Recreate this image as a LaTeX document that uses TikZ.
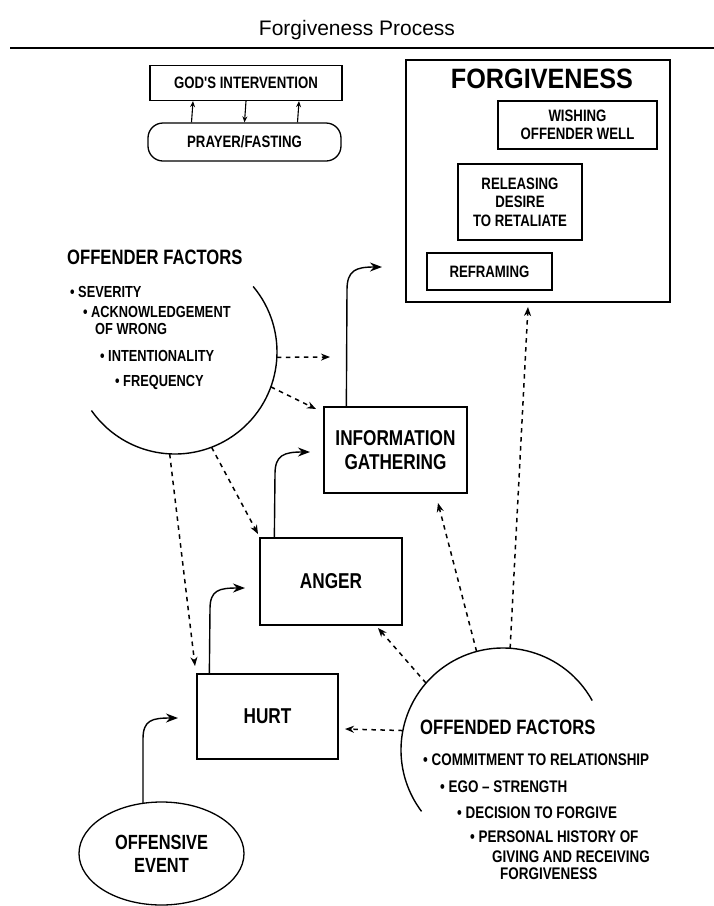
\documentclass[tikz,border=0pt]{standalone}
\usepackage{fontspec}
\setmainfont{Liberation Sans}
\newfontfamily\cond[FakeStretch=0.8]{Liberation Sans}
\newfontfamily\condw[FakeStretch=0.9]{Liberation Sans}
\usetikzlibrary{arrows.meta,shapes.geometric}
\tikzset{
  box/.style={draw, line width=1.3pt, inner sep=0pt, align=center,
    font=\cond\bfseries\fontsize{21.5}{24}\selectfont},
  sbox/.style={draw, line width=1.3pt, inner sep=0pt, align=center,
    font=\cond\bfseries\fontsize{16.5}{18.5}\selectfont},
  lst/.style={anchor=west, inner sep=0pt, font=\cond\bfseries\fontsize{16}{18}\selectfont},
  lstb/.style={anchor=west, inner sep=0pt, font=\cond\bfseries\fontsize{16.8}{18}\selectfont},
  head/.style={anchor=west, inner sep=0pt, font=\cond\bfseries\fontsize{20.8}{24}\selectfont},
  solidarr/.style={line width=1.4pt, -{Stealth[length=12pt,width=9pt]}},
  dasharr/.style={line width=1.5pt, dash pattern=on 4.5pt off 4.5pt, -{Stealth[length=9pt,width=7pt]}},
  smallarr/.style={line width=1.1pt, -{Stealth[length=6pt,width=5pt]}},
  arcline/.style={line width=1.4pt}
}
\begin{document}
\begin{tikzpicture}[x=1pt,y=-1pt]
\useasboundingbox (0,0) rectangle (714,906);
% title and rule
\node[font=\fontsize{21}{24}\selectfont, inner sep=0pt] (title) at (357,30) {Forgiveness Process};
\coordinate (rl) at (10,48);
\coordinate (rr) at (714,48);
\draw[line width=1.8pt] (rl) -- (rr);

% God / prayer
\node[sbox, minimum width=192pt, minimum height=35pt] (god) at (246,83) {GOD'S INTERVENTION};
\node[sbox, minimum width=193pt, minimum height=38pt, rounded corners=15pt] (pray) at (244.5,142) {PRAYER/FASTING};
\draw[smallarr] ([xshift=-53pt]pray.north) -- ([xshift=-53pt]god.south);
\draw[smallarr] (god.south) -- (pray.north);
\draw[smallarr] ([xshift=53pt]pray.north) -- ([xshift=53pt]god.south);

% Forgiveness box
\node[draw, line width=1.3pt, minimum width=264pt, minimum height=242pt, inner sep=0pt] (forg) at (538,181) {};
\node[inner sep=0pt, font=\condw\bfseries\fontsize{28}{30}\selectfont] (forgt) at (542,79) {FORGIVENESS};
\node[sbox, minimum width=159pt, minimum height=48pt] (wish) at (577.5,125) {WISHING\\OFFENDER WELL};
\node[sbox, minimum width=124pt, minimum height=76pt] (rel) at (520,202) {RELEASING\\DESIRE\\TO RETALIATE};
\node[sbox, minimum width=125pt, minimum height=37pt] (refr) at (489.5,271.5) {REFRAMING};

% process boxes
\node[box, minimum width=143pt, minimum height=86pt] (info) at (395.5,450) {INFORMATION\\GATHERING};
\node[box, minimum width=142pt, minimum height=87pt] (anger) at (331,581.5) {ANGER};
\node[box, minimum width=141pt, minimum height=85pt] (hurt) at (267.5,716.5) {HURT};
\node[draw, ellipse, line width=1.3pt, minimum width=165pt, minimum height=103pt, inner sep=0pt, align=center,
  font=\cond\bfseries\fontsize{20.5}{23}\selectfont] (off) at (161.5,853.5) {OFFENSIVE\\EVENT};

% solid curved arrows
\coordinate (t1) at (382,267);
\coordinate (t2) at (310,452);
\coordinate (t3) at (245,588);
\coordinate (t4) at (178,718);
\coordinate (s4) at (143,803.5);
\draw[solidarr] ([xshift=23pt]info.north west) -- (347,290) .. controls (347,270) and (356,267) .. (t1);
\draw[solidarr] ([xshift=15pt]anger.north west) -- (275,474) .. controls (275,455) and (284,452) .. (t2);
\draw[solidarr] ([xshift=13pt]hurt.north west) -- (210,609) .. controls (210,590) and (219,588) .. (t3);
\draw[solidarr] (s4) -- (143,739) .. controls (143,720) and (152,718) .. (t4);

% offender factors
\coordinate (oc) at (175,352);
\draw[arcline] (oc) ++(-40:102) arc[start angle=-40, end angle=145, radius=102];
\path (oc) ++(3:102) coordinate (oa1);
\path (oc) ++(20:102) coordinate (oa2);
\path (oc) ++(69:102) coordinate (oa3);
\path (oc) ++(93:102) coordinate (oa4);
\coordinate (oe1) at (330,357);
\coordinate (oe2) at (316,409);
\coordinate (oe3) at (258,534);
\coordinate (oe4) at (195,666);
\draw[dasharr] (oa1) -- (oe1);
\draw[dasharr] (oa2) -- (oe2);
\draw[dasharr] (oa3) -- (oe3);
\draw[dasharr] (oa4) -- (oe4);
\node[head] (ofh) at (67,257) {OFFENDER FACTORS};
\node[lst] (ol1) at (70,292) {• SEVERITY};
\node[lst] (ol2) at (83,312) {• ACKNOWLEDGEMENT};
\node[lst] (ol3) at (95,329) {OF WRONG};
\node[lst] (ol4) at (100,356) {• INTENTIONALITY};
\node[lst] (ol5) at (115,382) {• FREQUENCY};

% offended factors
\coordinate (fc) at (503,750);
\draw[arcline] (fc) ++(-29:102) arc[start angle=-29, end angle=-217, radius=102];
\path (fc) ++(-169:102) coordinate (fa1);
\path (fc) ++(-139:102) coordinate (fa2);
\path (fc) ++(-105:102) coordinate (fa3);
\path (fc) ++(-86:102) coordinate (fa4);
\coordinate (fe1) at (345,729);
\coordinate (fe2) at (378,628);
\coordinate (fe3) at (438,503);
\coordinate (fe4) at (528,307);
\draw[dasharr] (fa1) -- (fe1);
\draw[dasharr] (fa2) -- (fe2);
\draw[dasharr] (fa3) -- (fe3);
\draw[dasharr] (fa4) -- (fe4);
\node[head] (fdh) at (420,727) {OFFENDED FACTORS};
\node[lstb] (fl1) at (423,760) {• COMMITMENT TO RELATIONSHIP};
\node[lstb] (fl2) at (440,787) {• EGO – STRENGTH};
\node[lstb] (fl3) at (457,813) {• DECISION TO FORGIVE};
\node[lstb] (fl4) at (470,837) {• PERSONAL HISTORY OF};
\node[lstb] (fl5) at (492,857) {GIVING AND RECEIVING};
\node[lstb] (fl6) at (500,874) {FORGIVENESS};
\end{tikzpicture}
\end{document}
